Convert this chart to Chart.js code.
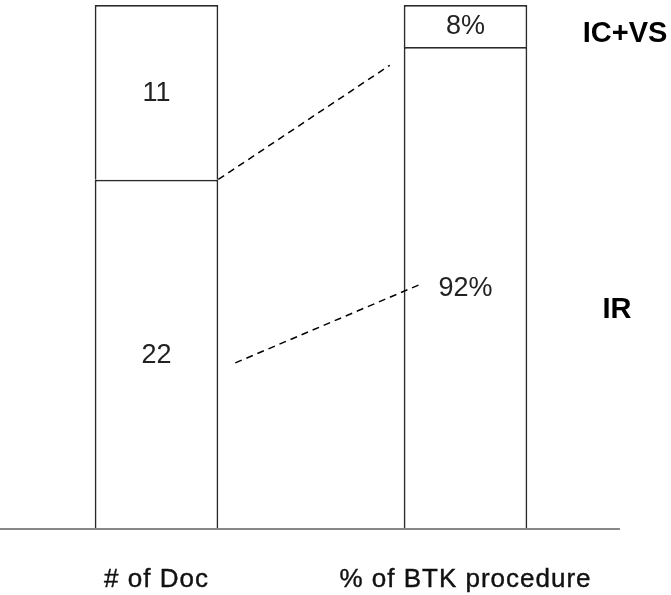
<!DOCTYPE html>
<html>
<head>
<meta charset="utf-8">
<script src="https://cdn.jsdelivr.net/npm/chart.js@4.4.1/dist/chart.umd.min.js"></script>
<style>
    html, body { margin: 0; padding: 0; background: #fff; }
    #wrap { width: 671px; height: 595px; position: relative; }
</style>
</head>
<body>
<div id="wrap"><canvas id="c1"></canvas></div>
<script>
// 1. Data
const categories = ['# of Doc', '% of BTK procedure'];
const seriesNames = ['IR', 'IC+VS'];
const irValues = [22, 92];
const icvsValues = [11, 8];
const valueSuffix = ['', '%'];

// dashed callout lines (x in category units, y in % of bar height)
const upperConnector = [{ x: 0.2, y: 66.7 }, { x: 0.755, y: 88.5 }];
const lowerConnector = [{ x: 0.255, y: 31.7 }, { x: 0.862, y: 46.9 }];

// each bar is drawn as 100% tall, split by its own total
const totals = irValues.map((v, i) => v + icvsValues[i]);
const irShare = irValues.map((v, i) => v / totals[i] * 100);
const icvsShare = icvsValues.map((v, i) => v / totals[i] * 100);

const raw = { 0: irValues, 1: icvsValues };

// 2. Extra drawing: connectors, labels, axis line
const decor = {
    id: 'decor',
    afterDatasetsDraw(chart) {
        const ctx = chart.ctx;
        const area = chart.chartArea;
        const xScale = chart.scales.x;
        const yScale = chart.scales.y;
        ctx.save();

        // baseline
        ctx.strokeStyle = '#888';
        ctx.lineWidth = 2;
        ctx.beginPath();
        ctx.moveTo(0, yScale.getPixelForValue(0));
        ctx.lineTo(area.right, yScale.getPixelForValue(0));
        ctx.stroke();

        // dashed connectors
        ctx.strokeStyle = '#000';
        ctx.lineWidth = 1.5;
        ctx.setLineDash([7, 5]);
        [upperConnector, lowerConnector].forEach(pts => {
            ctx.beginPath();
            pts.forEach((p, k) => {
                const px = xScale.getPixelForValue(p.x);
                const py = yScale.getPixelForValue(p.y);
                if (k === 0) ctx.moveTo(px, py); else ctx.lineTo(px, py);
            });
            ctx.stroke();
        });
        ctx.setLineDash([]);

        // values inside the segments
        ctx.fillStyle = '#222';
        ctx.font = '27px "Liberation Sans", Arial, sans-serif';
        ctx.textAlign = 'center';
        ctx.textBaseline = 'middle';
        [0, 1].forEach(di => {
            chart.getDatasetMeta(di).data.forEach((bar, i) => {
                const txt = raw[di][i] + valueSuffix[i];
                ctx.fillText(txt, bar.x, (bar.y + bar.base) / 2 + 1);
            });
        });

        // category labels under the bars (a touch heavier, like the source)
        ctx.fillStyle = '#111';
        ctx.strokeStyle = '#111';
        ctx.lineWidth = 0.4;
        ctx.font = '26px "Liberation Sans", Arial, sans-serif';
        ctx.letterSpacing = '1px';
        ctx.textBaseline = 'alphabetic';
        chart.getDatasetMeta(0).data.forEach((bar, i) => {
            ctx.fillText(categories[i], bar.x, 587);
            ctx.strokeText(categories[i], bar.x, 587);
        });
        ctx.letterSpacing = '0px';

        // series names on the right
        ctx.fillStyle = '#000';
        ctx.font = 'bold 29px "Liberation Sans", Arial, sans-serif';
        ctx.textBaseline = 'middle';
        ctx.fillText(seriesNames[1], 625, 34);
        ctx.fillText(seriesNames[0], 617, 310);

        ctx.restore();
    }
};

// 3. Chart
const barStyle = {
    backgroundColor: '#fff',
    borderColor: '#2a2a2a',
    borderWidth: 1.8,
    borderSkipped: 'bottom',
    barPercentage: 0.4,
    categoryPercentage: 1
};

new Chart(document.getElementById('c1'), {
    type: 'bar',
    data: {
        labels: categories,
        datasets: [
            { label: seriesNames[0], data: irShare, ...barStyle },
            { label: seriesNames[1], data: icvsShare, ...barStyle }
        ]
    },
    options: {
        responsive: true,
        maintainAspectRatio: false,
        animation: false,
        layout: { padding: { left: 2, right: 51, top: 5, bottom: 66 } },
        plugins: { legend: { display: false }, tooltip: { enabled: false } },
        scales: {
            x: { display: false, stacked: true, offset: true },
            y: { display: false, stacked: true, min: 0, max: 100 }
        }
    },
    plugins: [decor]
});
</script>
</body>
</html>
